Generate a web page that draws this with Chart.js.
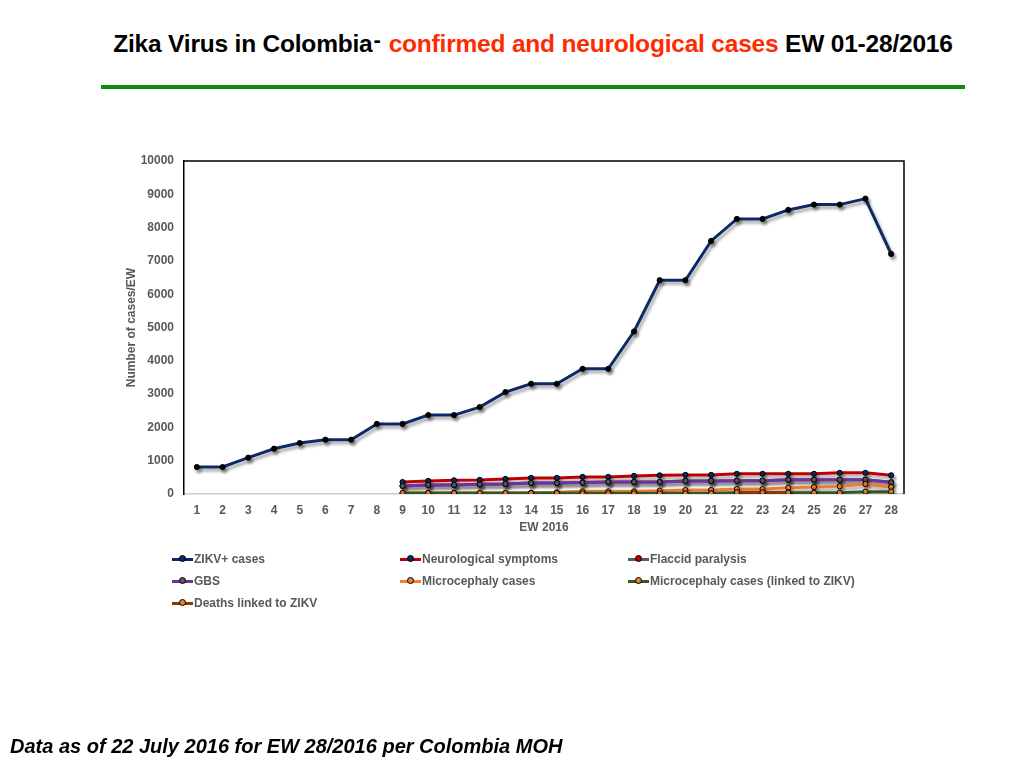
<!DOCTYPE html>
<html><head><meta charset="utf-8">
<script src="https://cdn.jsdelivr.net/npm/chart.js@4"></script>
<style>
html,body{margin:0;padding:0;background:#fff;}
#wrap{position:relative;width:1024px;height:768px;overflow:hidden;font-family:"Liberation Sans",Arial,sans-serif;}
#title{position:absolute;left:0;width:1066px;top:27px;text-align:center;font-weight:bold;font-size:24.5px;color:#000;white-space:nowrap;letter-spacing:-0.2px;}
#title .red{color:#ff2a00;}
#title .dash{font-size:22px;vertical-align:5px;margin-left:1px;margin-right:8px;}
#rule{position:absolute;left:101px;top:85px;width:864px;height:4px;background:#0a8c0a;}
#foot{position:absolute;left:10px;top:735px;font-weight:bold;font-style:italic;font-size:20px;color:#000;white-space:nowrap;}
canvas{position:absolute;left:0;top:0;}
#legend{position:absolute;left:0;top:0;width:1024px;height:768px;pointer-events:none;}
.li{position:absolute;height:14px;font-weight:bold;font-size:12px;color:#595959;white-space:nowrap;line-height:14px;}
.li .sw{position:absolute;left:0;top:6px;width:21px;height:3px;}
.li .dot{position:absolute;left:8px;top:4px;width:5px;height:5px;border-radius:50%;border:1px solid #000;box-sizing:content-box;margin-left:-1px;margin-top:-1px;}
.li .tx{position:absolute;left:22px;top:0;}
</style></head>
<body><div id="wrap">
<div id="title">Zika Virus in Colombia<span class="dash">-</span><span class="red">confirmed and neurological cases</span> EW 01-28/2016</div>
<div id="rule"></div>
<canvas id="c" width="1024" height="768"></canvas>
<div id="legend"></div>
<div id="foot">Data as of 22 July 2016 for EW 28/2016 per Colombia MOH</div>
</div>
<script>
const weeks = ['1','2','3','4','5','6','7','8','9','10','11','12','13','14','15','16','17','18','19','20','21','22','23','24','25','26','27','28'];
const yTicks = [0,1000,2000,3000,4000,5000,6000,7000,8000,9000,10000];
const seriesNames = ['ZIKV+ cases','Neurological symptoms','Flaccid paralysis','GBS','Microcephaly cases','Microcephaly cases (linked to ZIKV)','Deaths linked to ZIKV'];
const zikv = [810,810,1090,1360,1530,1630,1630,2105,2105,2370,2370,2610,3060,3310,3310,3760,3760,4880,6420,6420,7600,8260,8260,8530,8690,8690,8870,7210];
const neuro = [null,null,null,null,null,null,null,null,360,393,411,423,453,483,483,514,514,544,560,574,574,605,605,605,605,635,635,562];
const flaccid = [null,null,null,null,null,null,null,null,242,272,272,290,302,332,332,342,362,362,362,393,393,400,400,430,430,430,430,350];
const gbs = [null,null,null,null,null,null,null,null,242,272,272,290,302,332,332,342,362,362,362,393,393,400,400,430,430,430,430,350];
const micro = [null,null,null,null,null,null,null,null,30,30,30,30,30,40,50,80,80,80,100,120,120,150,150,190,210,230,300,210];
const microLinked = [null,null,null,null,null,null,null,null,30,30,30,30,30,30,30,20,20,20,20,20,20,40,40,40,40,40,70,70];
const deaths = [null,null,null,null,null,null,null,null,null,null,null,null,null,null,null,null,null,null,null,null,null,50,50,40,null,null,null,null];

const lineColors = ['#0d2a66','#c00000','#595959','#7030a0','#ed7d31','#375623','#843c0c'];
const markerColors = ['#0d2a66','#0d2a66','#c00000','#595959','#ed7d31','#ed7d31','#ed7d31'];
const seriesData = [zikv,neuro,flaccid,gbs,micro,microLinked,deaths];

const datasets = seriesData.map((d,i)=>({
  label: seriesNames[i],
  data: d,
  borderColor: lineColors[i],
  backgroundColor: markerColors[i],
  pointBackgroundColor: i===0 ? '#000' : markerColors[i],
  pointBorderColor: '#000',
  pointBorderWidth: 1,
  pointRadius: 2.6,
  borderWidth: 3,
  tension: 0,
  spanGaps: false,
  order: 7-i
}));

const shadowPlugin = {
  id:'shadow',
  beforeDatasetDraw(chart){ const c=chart.ctx; c.save(); c.shadowColor='rgba(0,0,0,0.35)'; c.shadowBlur=3; c.shadowOffsetX=2; c.shadowOffsetY=3; },
  afterDatasetDraw(chart){ chart.ctx.restore(); }
};
const framePlugin = {
  id:'frame',
  afterDraw(chart){
    const {ctx, chartArea:a} = chart;
    ctx.save(); ctx.strokeStyle='#000'; ctx.lineWidth=1.5;
    ctx.beginPath(); ctx.moveTo(a.left,a.top); ctx.lineTo(a.right,a.top); ctx.lineTo(a.right,a.bottom); ctx.stroke();
    ctx.restore();
  }
};

const axisFont = {family:'Liberation Sans',weight:'bold',size:12};
new Chart(document.getElementById('c'), {
  type:'line',
  data:{labels:weeks, datasets},
  options:{
    responsive:false, animation:false,
    layout:{padding:{left:100,right:120,top:161,bottom:229}},
    plugins:{legend:{display:false}, tooltip:{enabled:false}},
    scales:{
      x:{
        offset:true,
        grid:{display:false, drawTicks:false},
        border:{display:true,color:'#cccccc',width:1.5},
        ticks:{color:'#595959',font:axisFont,padding:9,autoSkip:false,maxRotation:0},
        title:{display:true,text:'EW 2016',color:'#595959',font:axisFont,padding:{top:2}},
        afterFit(s){ s.height=45; }
      },
      y:{
        min:0,max:10000,
        afterBuildTicks(s){ s.ticks = yTicks.map(v=>({value:v})); },
        grid:{display:false, drawTicks:false},
        border:{display:true,color:'#000',width:1.5},
        ticks:{color:'#595959',font:axisFont,padding:10,callback:v=>String(v)},
        title:{display:true,text:'Number of cases/EW',color:'#595959',font:axisFont,padding:{top:24,bottom:0}},
        afterFit(s){ s.width=84; }
      }
    }
  },
  plugins:[shadowPlugin, framePlugin]
});

// legend
const leg = document.getElementById('legend');
const colX = [172,400,628];
const rowY = [552,574,596];
seriesNames.forEach((n,i)=>{
  const el = document.createElement('div');
  el.className='li';
  el.style.left = colX[i%3]+'px';
  el.style.top = rowY[Math.floor(i/3)]+'px';
  el.innerHTML = '<div class="sw" style="background:'+lineColors[i]+'"></div><div class="dot" style="background:'+markerColors[i]+'"></div><div class="tx"></div>';
  el.querySelector('.tx').textContent = n;
  leg.appendChild(el);
});
</script>
</body></html>
